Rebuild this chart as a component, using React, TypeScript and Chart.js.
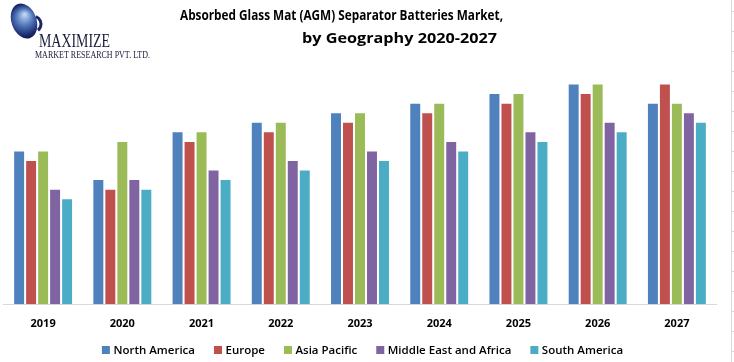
import React, { useEffect, useRef } from "react";
import { Chart, registerables } from "chart.js";

Chart.register(...registerables);

const years = ["2019", "2020", "2021", "2022", "2023", "2024", "2025", "2026", "2027"];
const seriesNames = ["North America", "Europe", "Asia Pacific", "Middle East and Africa", "South America"];
const seriesColors = ["#4F81BD", "#C0504D", "#9BBB59", "#8064A2", "#4BACC6"];
const northAmerica = [16, 13, 18, 19, 20, 21, 22, 23, 21];
const europe = [15, 12, 17, 18, 19, 20, 21, 22, 23];
const asiaPacific = [16, 17, 18, 19, 20, 21, 22, 23, 21];
const middleEastAfrica = [12, 13, 14, 15, 16, 17, 18, 19, 20];
const southAmerica = [11, 12, 13, 14, 15, 16, 17, 18, 19];
const titleLines = ["Absorbed Glass Mat (AGM) Separator Batteries Market,", "by Geography 2020-2027"];
const logoLines = ["MAXIMIZE", "MARKET RESEARCH PVT. LTD."];

function drawFitted(ctx: CanvasRenderingContext2D, text: string, x: number, y: number, font: string, width: number, color: string) {
  ctx.save();
  ctx.font = font;
  ctx.fillStyle = color;
  ctx.textBaseline = "alphabetic";
  ctx.textAlign = "left";
  const w = ctx.measureText(text).width;
  const sx = width / w;
  ctx.translate(x, y);
  ctx.scale(sx, 1);
  ctx.fillText(text, 0, 0);
  ctx.restore();
}

const decorPlugin = {
  id: "decor",
  afterDraw(chart: any) {
    const ctx: CanvasRenderingContext2D = chart.ctx;
    // logo globe
    ctx.save();
    ctx.translate(24, 21);
    ctx.rotate(-0.35);
    const g = ctx.createRadialGradient(3, -6, 1, 0, 0, 18);
    g.addColorStop(0, "#b9d3f0");
    g.addColorStop(0.45, "#4f74b8");
    g.addColorStop(0.85, "#1c2a6e");
    g.addColorStop(1, "#101a4a");
    ctx.fillStyle = g;
    ctx.beginPath();
    ctx.ellipse(0, 0, 12.5, 18, 0, 0, Math.PI * 2);
    ctx.fill();
    ctx.restore();
    ctx.save();
    ctx.strokeStyle = "#1d2566";
    ctx.lineWidth = 3;
    ctx.beginPath();
    ctx.arc(33, 24, 8, -1.2, 0.9);
    ctx.stroke();
    ctx.restore();
    drawFitted(ctx, logoLines[0], 39, 47, "18px 'Liberation Serif'", 71, "#1a1a3a");
    drawFitted(ctx, logoLines[1], 35, 57.5, "11px 'Liberation Serif'", 115, "#1a1a3a");

    // title
    drawFitted(ctx, titleLines[0], 180, 19.5, "bold 14.5px 'Open Sans'", 323, "#000000");
    drawFitted(ctx, titleLines[1], 302, 43.3, "bold 14.5px 'Open Sans'", 195, "#000000");

    // right ruler
    ctx.save();
    ctx.strokeStyle = "#d9d9d9";
    ctx.lineWidth = 1;
    ctx.beginPath();
    ctx.moveTo(731.5, 0);
    ctx.lineTo(731.5, 362);
    for (let k = 0; k < 18; k++) {
      const y = 11.5 + k * 20;
      ctx.moveTo(731.5, y);
      ctx.lineTo(734, y);
    }
    ctx.stroke();
    ctx.restore();

    // legend
    ctx.save();
    ctx.font = "600 11.5px 'Open Sans'";
    ctx.textBaseline = "middle";
    ctx.textAlign = "left";
    const box = 8, gapBox = 3.5, gapItem = 19;
    const datasets = chart.data.datasets;
    const widths = datasets.map((d: any) => box + gapBox + ctx.measureText(d.label).width);
    const total = widths.reduce((a: number, b: number) => a + b, 0) + gapItem * (datasets.length - 1);
    let x = 362.5 - total / 2;
    const cy = 350;
    datasets.forEach((d: any, i: number) => {
      ctx.fillStyle = d.backgroundColor;
      ctx.fillRect(x, cy - box / 2, box, box);
      ctx.fillStyle = "#000000";
      ctx.fillText(d.label, x + box + gapBox, cy + 0.5);
      x += widths[i] + gapItem;
    });
    ctx.restore();
  },
};

export default function App() {
  const ref = useRef<HTMLCanvasElement>(null);
  useEffect(() => {
    if (!ref.current) return;
    const values = [northAmerica, europe, asiaPacific, middleEastAfrica, southAmerica];
    const chart = new Chart(ref.current, {
      type: "bar",
      data: {
        labels: years,
        datasets: seriesNames.map((name, i) => ({
          label: name,
          data: values[i],
          backgroundColor: seriesColors[i],
          borderWidth: 0,
          categoryPercentage: 0.757,
          barPercentage: 0.83,
        })),
      },
      options: {
        responsive: false,
        animation: false,
        devicePixelRatio: 1,
        layout: { padding: { top: 75, left: 3.5, right: 17.5, bottom: 27.5 } },
        plugins: {
          legend: { display: false },
          title: { display: false },
          tooltip: { enabled: false },
        },
        scales: {
          x: {
            grid: { display: false },
            border: { display: true, color: "#d9d9d9", width: 1 },
            ticks: {
              padding: 4.5,
              color: "#000000",
              font: { family: "'Open Sans'", size: 11, weight: "bold" },
            },
          },
          y: {
            display: false,
            min: 0,
            max: 24,
          },
        },
      },
      plugins: [decorPlugin],
    });
    return () => chart.destroy();
  }, []);
  return (
    <div style={{ position: "absolute", left: 0, top: 0, width: 734, height: 362, background: "#ffffff" }}>
      <canvas ref={ref} width={734} height={362} />
    </div>
  );
}
